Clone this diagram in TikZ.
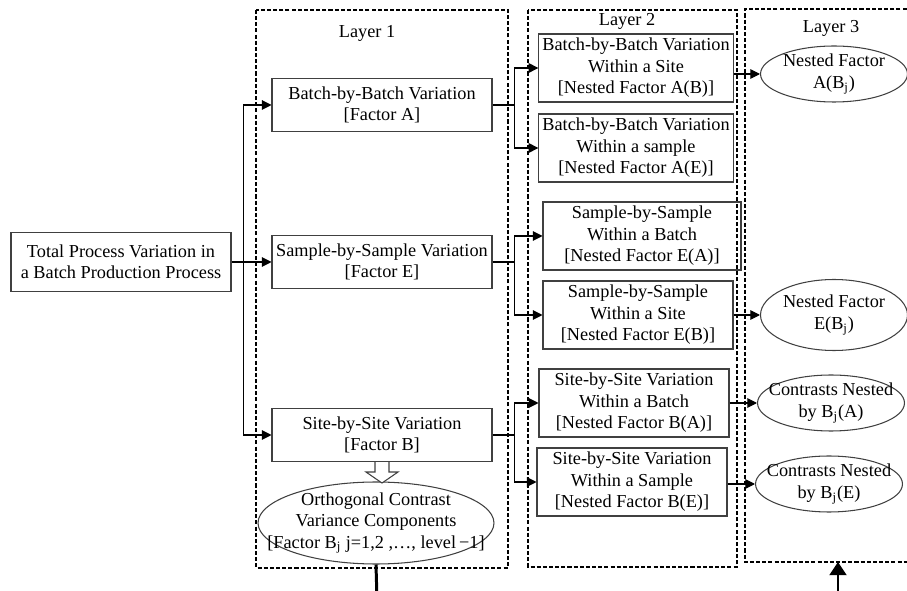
\documentclass[tikz,border=0pt]{standalone}
\usepackage{fontspec}
\setmainfont{Liberation Serif}
\usepackage{tikz}
\usetikzlibrary{shapes, arrows.meta, positioning}

\begin{document}
\begin{tikzpicture}[
  x=0.02cm, y=-0.02cm,
  font=\fontsize{10.4}{12.2}\selectfont,
  lbox/.style={draw=black!75, line width=0.6pt, align=center, inner sep=2pt, minimum width=4.4cm, minimum height=1.06cm},
  nbox/.style={draw=black!75, line width=0.6pt, align=center, inner sep=2pt, minimum width=3.8cm, minimum height=1.36cm},
  oval/.style={draw=black!75, line width=0.6pt, ellipse, align=center, inner xsep=-16pt, inner ysep=-5pt, minimum width=2.94cm, minimum height=1.12cm},
  layer/.style={line width=0.9pt, dash pattern=on 2.3pt off 1.2pt},
  link/.style={line width=0.6pt},
  arr/.style={link, -{Triangle[length=5.5pt, width=5.5pt]}},
  bigarr/.style={line width=1.7pt, -{Triangle[length=7.5pt, width=9.5pt]}}
]
  \useasboundingbox (0,0) rectangle (907,591);

  \draw[layer] (256,10) rectangle (508,568);
  \draw[layer] (528,10) rectangle (737,567);
  \draw[layer] (925,9) -- (745,9) -- (745,562) -- (925,562);

  \node (lay1) at (367,33) {Layer 1};
  \node (lay2) at (627,21) {Layer 2};
  \node (lay3) at (831,28) {Layer 3};

  \node[lbox, minimum height=1.18cm] (total) at (121,262) {Total Process Variation in\\a Batch Production Process};

  \node[lbox] (batch) at (382,105) {Batch-by-Batch Variation\\{[Factor A]}};
  \node[lbox] (sample) at (382,262) {Sample-by-Sample Variation\\{[Factor E]}};
  \node[lbox] (site) at (382,435) {Site-by-Site Variation\\{[Factor B]}};
  \node[oval, inner xsep=-30pt, minimum width=4.72cm, minimum height=1.64cm] (ort) at (376,523) {Orthogonal Contrast\\Variance Components\\{[Factor B\textsubscript{j} j=1,2 ,…, level\,−1]}};

  \node[nbox] (ab) at (636,68) {Batch-by-Batch Variation\\Within a Site\\{[Nested Factor A(B)]}};
  \node[nbox] (ae) at (636,148) {Batch-by-Batch Variation\\Within a sample\\{[Nested Factor A(E)]}};
  \node[nbox, minimum width=3.96cm] (ea) at (642,236) {Sample-by-Sample\\Within a Batch\\{[Nested Factor E(A)]}};
  \node[nbox] (eb) at (638,315) {Sample-by-Sample\\Within a Site\\{[Nested Factor E(B)]}};
  \node[nbox] (ba) at (634,403) {Site-by-Site Variation\\Within a Batch\\{[Nested Factor B(A)]}};
  \node[nbox] (be) at (632,482) {Site-by-Site Variation\\Within a Sample\\{[Nested Factor B(E)]}};

  \node[oval] (abj) at (834,74) {Nested Factor\\A(B\textsubscript{j})};
  \node[oval, minimum height=1.42cm] (ebj) at (834,315) {Nested Factor\\E(B\textsubscript{j})};
  \node[oval] (cba) at (831,403) {Contrasts Nested\\by B\textsubscript{j}(A)};
  \node[oval] (cbe) at (829,484) {Contrasts Nested\\by B\textsubscript{j}(E)};

  \draw[link] (total.east) -- ++(12,0) coordinate (trunk);
  \draw[arr] (trunk) |- (batch.west);
  \draw[arr] (trunk) -- (sample.west);
  \draw[arr] (trunk) |- (site.west);

  \draw[link] (batch.east) -- ++(22,0) coordinate (bsplit);
  \draw[arr] (bsplit) |- (ab.west);
  \draw[arr] (bsplit) |- (ae.west);
  \draw[link] (sample.east) -- ++(22,0) coordinate (esplit);
  \draw[arr] (esplit) |- (ea.west);
  \draw[arr] (esplit) |- (eb.west);
  \draw[link] (site.east) -- ++(22,0) coordinate (ssplit);
  \draw[arr] (ssplit) |- (ba.west);
  \draw[arr] (ssplit) |- (be.west);

  \draw[arr] (ab.east |- abj) -- (abj.west);
  \draw[arr] (eb.east |- ebj) -- (ebj.west);
  \draw[arr] (ba.east |- cba) -- (cba.west);
  \draw[arr] (be.east |- cbe) -- (cbe.west);

  \draw[draw=black!75, line width=0.6pt, fill=white] (site.south) ++(-7,0) -- ++(0,10) -- ++(-9,0) -- ++(16,11) -- ++(16,-11) -- ++(-9,0) -- ++(0,-10);

  \coordinate (ortout) at (377,600);
  \coordinate (l3in) at (838,600);
  \coordinate (l3foot) at (838,562);
  \draw[line width=1.7pt] (ort.south) -- (ortout);
  \draw[bigarr] (l3in) -- (l3foot);
\end{tikzpicture}
\end{document}
